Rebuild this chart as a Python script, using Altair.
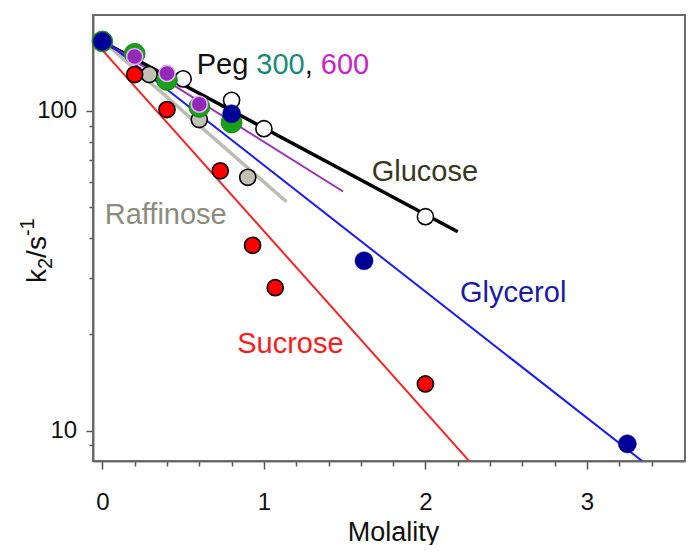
import altair as alt
import pandas as pd

# ---------------- data ----------------
glucose_x = [0.0, 0.5, 0.8, 1.0, 2.0]
glucose_y = [165, 126, 108, 88, 46.7]

raffinose_x = [0.0, 0.29, 0.6, 0.9]
raffinose_y = [165, 130, 94, 62]

sucrose_x = [0.0, 0.2, 0.4, 0.73, 0.93, 1.07, 2.0]
sucrose_y = [165, 130, 101, 65, 38, 28, 14]

glycerol_x = [0.0, 0.8, 1.62, 3.25]
glycerol_y = [165, 98, 34, 9.1]

peg300_x = [0.0, 0.2, 0.4, 0.6, 0.8]
peg300_y = [165, 151, 125, 103, 92]

peg600_x = [0.0, 0.2, 0.4, 0.6]
peg600_y = [165, 148, 131, 105]

# fitted straight lines (end points)
fit_glucose_x, fit_glucose_y = [0.0, 2.2], [165, 41.9]
fit_raffinose_x, fit_raffinose_y = [0.0, 1.14], [166, 52]
fit_peg600_x, fit_peg600_y = [0.0, 1.49], [166, 56]
fit_glycerol_x, fit_glycerol_y = [0.0, 3.34], [168, 8.05]
fit_sucrose_x, fit_sucrose_y = [0.0, 2.27], [155, 8.05]

# annotation texts
label_text = ["Glucose", "Raffinose", "Glycerol", "Sucrose", "Peg", "300", ",", "600"]
label_x = [1.667, 0.770, 2.214, 0.835, 0.584, 0.953, 1.253, 1.352]
label_y = [60.4, 44.3, 25.3, 17.5, 130.3, 130.3, 130.3, 130.3]
label_color = ["#38381f", "#8c8c7c", "#1a1aaa", "#ff1a1a", "#111111", "#1a8a78", "#111111", "#cc22cc"]
label_align = ["left", "right", "left", "left", "left", "left", "left", "left"]

x_ticks = [round(i * 0.2, 1) for i in range(0, 18)]
y_ticks = [9, 10, 20, 30, 40, 50, 60, 70, 80, 90, 100]

# y-axis title pieces: k, subscript 2, /s, superscript -1
ytitle_text = ["k", "2", "/s", "-1"]
ytitle_size = [28, 20, 28, 20]

FONT = "Liberation Sans"

xscale = alt.Scale(domain=[-0.058, 3.607], nice=False, zero=False)
yscale = alt.Scale(type="log", domain=[8.04, 199.6], nice=False)

xaxis = alt.Axis(
    values=x_ticks, tickCount=100,
    labelExpr="abs(datum.value - round(datum.value)) < 0.001 ? format(datum.value, 'd') : ''",
    tickSize={"condition": {"test": "abs(datum.value - round(datum.value)) < 0.001", "value": 8}, "value": 5},
    labelPadding=40.7, labelBaseline="alphabetic", labelFlush=False, labelOverlap=False,
    labelFont=FONT, labelFontSize=24, labelColor="#111111",
    tickColor="#555555", tickWidth=1.5, domainColor="#6b6b6b", domainWidth=2,
    grid=False, title="Molality", titleFont=FONT, titleFontSize=27, titleFontWeight="normal",
    titleColor="#111111", titleX=300, titleY=79, titleAlign="center", titleBaseline="alphabetic",
)
yaxis = alt.Axis(
    values=y_ticks, tickCount=100,
    labelExpr="(datum.value == 10 || datum.value == 100) ? format(datum.value, 'd') : ''",
    tickSize={"condition": {"test": "datum.value == 10 || datum.value == 100", "value": 7}, "value": 4},
    labelPadding=9.3, labelFlush=False, labelOverlap=False,
    labelFont=FONT, labelFontSize=24, labelColor="#111111",
    tickColor="#555555", tickWidth=1.5, domainColor="#6b6b6b", domainWidth=2,
    grid=False, title="",
)


def df(xs, ys):
    return pd.DataFrame({"x": xs, "y": ys})


def fit_line(xs, ys, color, width):
    return alt.Chart(df(xs, ys)).mark_line(color=color, strokeWidth=width, clip=True).encode(
        x=alt.X("x:Q", scale=xscale, axis=xaxis), y=alt.Y("y:Q", scale=yscale, axis=yaxis)
    )


def points(xs, ys, fill, stroke, size, sw):
    return alt.Chart(df(xs, ys)).mark_point(
        filled=True, fill=fill, stroke=stroke, strokeWidth=sw, size=size, opacity=1, shape="circle"
    ).encode(x=alt.X("x:Q", scale=xscale), y=alt.Y("y:Q", scale=yscale))


lines = [
    fit_line(fit_raffinose_x, fit_raffinose_y, "#bcbcb4", 3.5),
    fit_line(fit_glucose_x, fit_glucose_y, "#000000", 3.5),
    fit_line(fit_peg600_x, fit_peg600_y, "#9b2dbb", 2),
    fit_line(fit_glycerol_x, fit_glycerol_y, "#1a1aff", 2),
    fit_line(fit_sucrose_x, fit_sucrose_y, "#ff2020", 2),
]

pts = [
    points(glucose_x, glucose_y, "#ffffff", "#000000", 260, 1.6),
    points(raffinose_x, raffinose_y, "#c0c0b4", "#000000", 260, 1.6),
    points(peg300_x, peg300_y, "#18a018", "#0f8a0f", 430, 1),
    points(sucrose_x, sucrose_y, "#ff0000", "#000000", 260, 1.6),
    points(peg600_x, peg600_y, "#9428b8", "#e0b0ee", 260, 1.6),
    points(glycerol_x, glycerol_y, "#000099", "#000099", 330, 0.5),
]

labels_df = pd.DataFrame({"t": label_text, "x": label_x, "y": label_y, "c": label_color, "a": label_align})
text_layers = []
for align in ["left", "right"]:
    text_layers.append(
        alt.Chart(labels_df[labels_df["a"] == align]).mark_text(
            font=FONT, fontSize=29, align=align, baseline="alphabetic"
        ).encode(
            x=alt.X("x:Q", scale=xscale), y=alt.Y("y:Q", scale=yscale),
            text="t:N", color=alt.Color("c:N", scale=None),
        )
    )

# rotated y-axis title built from pieces (relative to the plot area origin)
base_x = 46 - 93
start_y = 283 - 15
ytitle_layers = []
cur_y = start_y
offsets = [0, 6, 0, -12]
widths = {"k": 0.5, "2": 0.556, "/s": 0.778, "-1": 0.889}
for txt, fs, off in zip(ytitle_text, ytitle_size, offsets):
    ytitle_layers.append(
        alt.Chart(pd.DataFrame({"t": [txt]})).mark_text(
            font=FONT, fontSize=fs, angle=270, align="left", baseline="alphabetic",
            color="#111111", clip=False,
        ).encode(text="t:N", x=alt.value(base_x + off), y=alt.value(cur_y))
    )
    cur_y -= widths[txt] * fs

chart = alt.layer(*lines, *pts, *text_layers, *ytitle_layers).properties(
    width=592, height=446,
    padding={"left": 85, "top": 7, "right": 4, "bottom": 84},
    autosize=alt.AutoSizeParams(type="none"),
    background="white",
).configure_view(stroke="#6b6b6b", strokeWidth=2)

chart.save("out.html", embed_options={"renderer": "svg", "actions": False})
